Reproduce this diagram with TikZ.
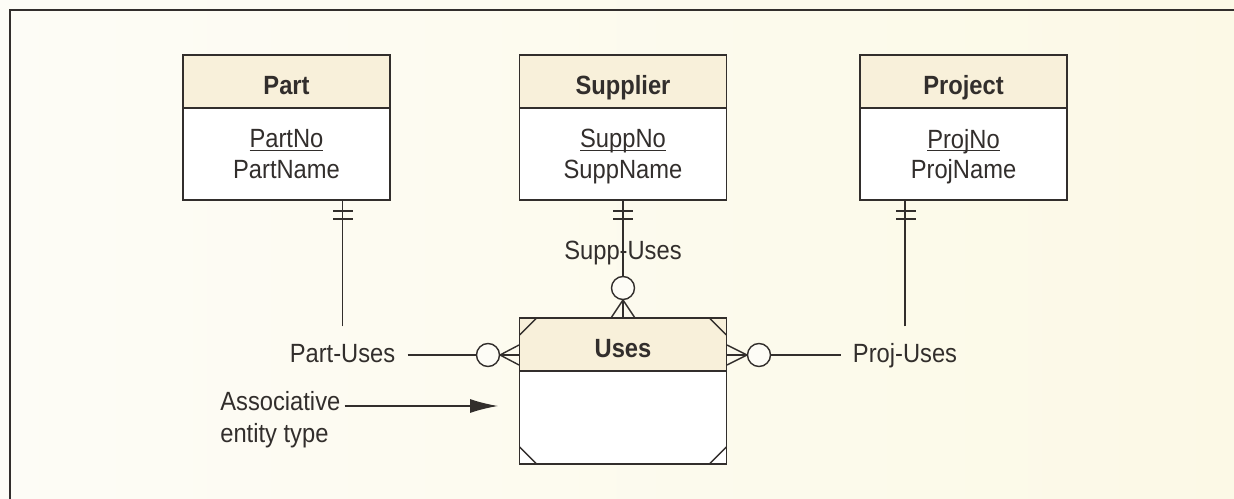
\documentclass[tikz,border=0pt]{standalone}
\usepackage{fontspec}
\setmainfont{Liberation Sans}[FakeStretch=0.9]
\usetikzlibrary{positioning,arrows.meta}
\definecolor{paperl}{RGB}{253,252,246}
\definecolor{paperr}{RGB}{252,249,230}
\definecolor{headfill}{RGB}{248,240,218}
\definecolor{ink}{RGB}{50,46,44}
\newcommand{\keyattr}[1]{\underline{\smash{#1}}\vphantom{#1}}
\tikzset{
  head/.style={draw=ink,line width=1pt,fill=headfill,minimum width=4.14cm,
    minimum height=1.06cm,inner sep=0pt,outer sep=0pt,text height=15pt,text depth=0pt,
    font=\fontsize{15}{17.6}\selectfont\bfseries},
  attrs/.style={draw=ink,line width=1pt,fill=white,minimum width=4.14cm,
    minimum height=1.84cm,inner sep=0pt,outer sep=0pt,align=center,text depth=0pt},
  rel/.style={inner xsep=0.24cm,inner ysep=0.32cm,text height=11pt,text depth=3pt},
  link/.style={draw=ink,line width=0.8pt},
  ring/.style={draw=ink,line width=0.8pt,fill=paperl,circle,minimum size=0.46cm,inner sep=0pt},
}
\begin{document}
\begin{tikzpicture}[x=0.02cm,y=-0.02cm,font=\fontsize{15}{17.6}\selectfont,text=ink]
\useasboundingbox (0,0) rectangle (1234,499);
\shade[left color=paperl,right color=paperr] (0,0) rectangle (1234,499);
\draw[ink,line width=1.1pt] (10,499)--(10,10)--(1234,10);
% entity types
\node[head] (part) at (286.5,81.5) {Part};
\node[attrs,below=0pt of part] (partb) {\keyattr{PartNo}\\PartName};
\node[head] (supp) at (623,81.5) {Supplier};
\node[attrs,below=0pt of supp] (suppb) {\keyattr{SuppNo}\\SuppName};
\node[head] (proj) at (963.5,81.5) {Project};
\node[attrs,below=0pt of proj] (projb) {\keyattr{ProjNo}\\ProjName};
% associative entity type
\node[head] (uses) at (623,344.5) {Uses};
\node[attrs,below=0pt of uses,minimum height=1.86cm] (usesb) {};
\draw[link] (uses.north west) ++(0,17) -- ++(17,-17);
\draw[link] (uses.north east) ++(-17,0) -- ++(17,17);
\draw[link] (usesb.south west) ++(0,-17) -- ++(17,17);
\draw[link] (usesb.south east) ++(-17,0) -- ++(17,-17);
% relationships
\node[rel] (pu) at (342.5,355) {Part-Uses};
\node[rel] (ju) at (905,355) {Proj-Uses};
\draw[link] (pu.north) -- (pu.north |- partb.south);
\draw[link] (ju.north) -- (ju.north |- projb.south);
\draw[link] (333,211)--(353,211) (333,219)--(353,219);
\draw[link] (896,211)--(916,211) (896,219)--(916,219);
\draw[link] (pu.east) -- (pu.east -| uses.west);
\draw[link] (ju.west) -- (ju.west -| uses.east);
\draw[link] (500,355)--(519,345) (500,355)--(519,365);
\draw[link] (747,355)--(727,345) (747,355)--(727,365);
\node[ring] (pc) at (488,355) {};
\node[ring] (jc) at (759,355) {};
\draw[link] (suppb.south) -- (uses.north);
\draw[link] (613,211)--(633,211) (613,219)--(633,219);
\draw[link] (623,300)--(611,318) (623,300)--(635,318);
\node[ring] (sc) at (623,288) {};
\node[rel] (su) at (623,252) {Supp-Uses};
% label
\node[align=left,anchor=west,inner xsep=0.08cm,inner ysep=0pt,
  font=\fontsize{15}{18.2}\selectfont] (assoc) at (216,420) {Associative\\entity type};
\coordinate (tip) at (498,406);
\draw[link,-{Latex[length=0.56cm,width=0.28cm]}] (tip -| assoc.east) -- (tip);
\end{tikzpicture}
\end{document}
